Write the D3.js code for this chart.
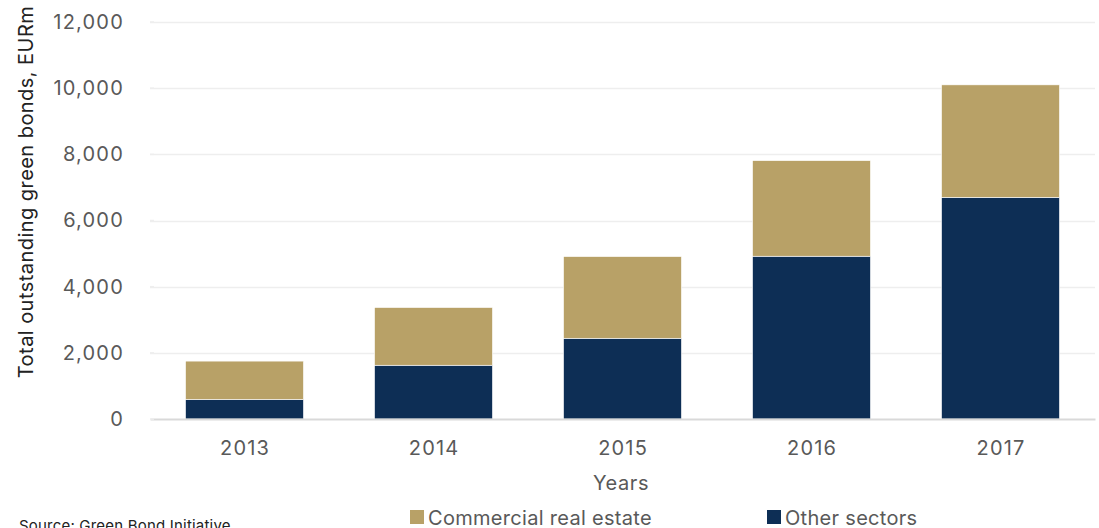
<!DOCTYPE html>
<html>
<head>
<meta charset="utf-8">
<script src="https://cdn.jsdelivr.net/npm/d3@7"></script>
<style>
  html, body { margin: 0; padding: 0; background: #fff; }
  svg { display: block; font-family: Inter, Roboto, "Noto Sans", sans-serif; }
</style>
</head>
<body>
<svg id="chart" width="1099" height="528"></svg>
<script>
// Outstanding green bonds by year, EUR millions
const years = ["2013", "2014", "2015", "2016", "2017"];
const otherSectors = [590, 1625, 2440, 4920, 6700];
const commercialRealEstate = [1160, 1745, 2470, 2890, 3400];
const yTicks = [0, 2000, 4000, 6000, 8000, 10000, 12000];
const seriesNames = ["Other sectors", "Commercial real estate"];
const seriesColors = ["#0d2e55", "#b8a167"];

const svg = d3.select("#chart");
const margin = { left: 150, right: 4, top: 22, bottom: 109 };
const W = 1099, H = 528;
const textGray = "#595959";

const x = d3.scaleBand().domain(years)
  .range([margin.left, W - margin.right])
  .paddingInner(0.376).paddingOuter(0.188);
const y = d3.scaleLinear().domain([0, 12000]).range([H - margin.bottom, margin.top]);

// gridlines
svg.append("g").selectAll("line").data(yTicks.slice(1)).join("line")
  .attr("x1", margin.left).attr("x2", W - margin.right)
  .attr("y1", d => Math.round(y(d)) + 0.5).attr("y2", d => Math.round(y(d)) + 0.5)
  .attr("stroke", "#eeeeee").attr("stroke-width", 1.5);

// stacked bars
const rows = years.map((yr, i) => ({ year: yr, "Other sectors": otherSectors[i], "Commercial real estate": commercialRealEstate[i] }));
const stack = d3.stack().keys(seriesNames)(rows);
svg.append("g").selectAll("g").data(stack).join("g")
  .attr("fill", (d, i) => seriesColors[i])
  .selectAll("rect").data(d => d).join("rect")
  .attr("x", d => x(d.data.year))
  .attr("width", x.bandwidth())
  .attr("y", d => y(d[1]))
  .attr("height", d => y(d[0]) - y(d[1]))
  .attr("stroke", "#ffffff").attr("stroke-width", 0.6);

// x axis
const xAxis = svg.append("g").attr("transform", `translate(0,${y(0)})`)
  .call(d3.axisBottom(x).tickSize(0).tickPadding(22));
xAxis.select(".domain").attr("stroke", "#d9d9d9").attr("stroke-width", 2);
xAxis.selectAll("text").attr("fill", textGray).attr("font-size", 20)
  .attr("font-family", "Inter, Roboto, sans-serif")
  .attr("letter-spacing", "1.2px").attr("dx", "0.6px");

// y axis
const yAxis = svg.append("g").attr("transform", `translate(${margin.left},0)`)
  .call(d3.axisLeft(y).tickValues(yTicks).tickFormat(d3.format(",")).tickSize(0).tickPadding(26));
yAxis.select(".domain").remove();
yAxis.selectAll("text").attr("fill", textGray).attr("font-size", 20)
  .attr("font-family", "Inter, Roboto, sans-serif")
  .attr("letter-spacing", "1.2px");
// short tick stubs next to labels
svg.append("g").selectAll("line").data(yTicks).join("line")
  .attr("x1", margin.left).attr("x2", margin.left + 4)
  .attr("y1", d => y(d)).attr("y2", d => y(d))
  .attr("stroke", "#eeeeee").attr("stroke-width", 1.5);

// axis titles
svg.append("text")
  .attr("transform", `translate(33,192) rotate(-90)`)
  .attr("text-anchor", "middle").attr("fill", "#222").attr("font-size", 20)
  .attr("letter-spacing", "0.45px")
  .text("Total outstanding green bonds, EURm");
svg.append("text")
  .attr("x", 621).attr("y", 490)
  .attr("text-anchor", "middle").attr("fill", textGray).attr("font-size", 20)
  .attr("letter-spacing", "0.6px")
  .text("Years");

// legend
const legendItems = [
  { name: "Commercial real estate", color: seriesColors[1], x: 410 },
  { name: "Other sectors", color: seriesColors[0], x: 767 }
];
const lg = svg.append("g").selectAll("g").data(legendItems).join("g")
  .attr("transform", d => `translate(${d.x},510)`);
lg.append("rect").attr("width", 14).attr("height", 14).attr("fill", d => d.color);
lg.append("text").attr("x", 18).attr("y", 14.5).attr("fill", textGray).attr("font-size", 20)
  .attr("letter-spacing", "0.3px")
  .text(d => d.name);

// source note
svg.append("text").attr("x", 19).attr("y", 531).attr("fill", "#222").attr("font-size", 15)
  .attr("letter-spacing", "0.2px")
  .text("Source: Green Bond Initiative");
</script>
</body>
</html>
